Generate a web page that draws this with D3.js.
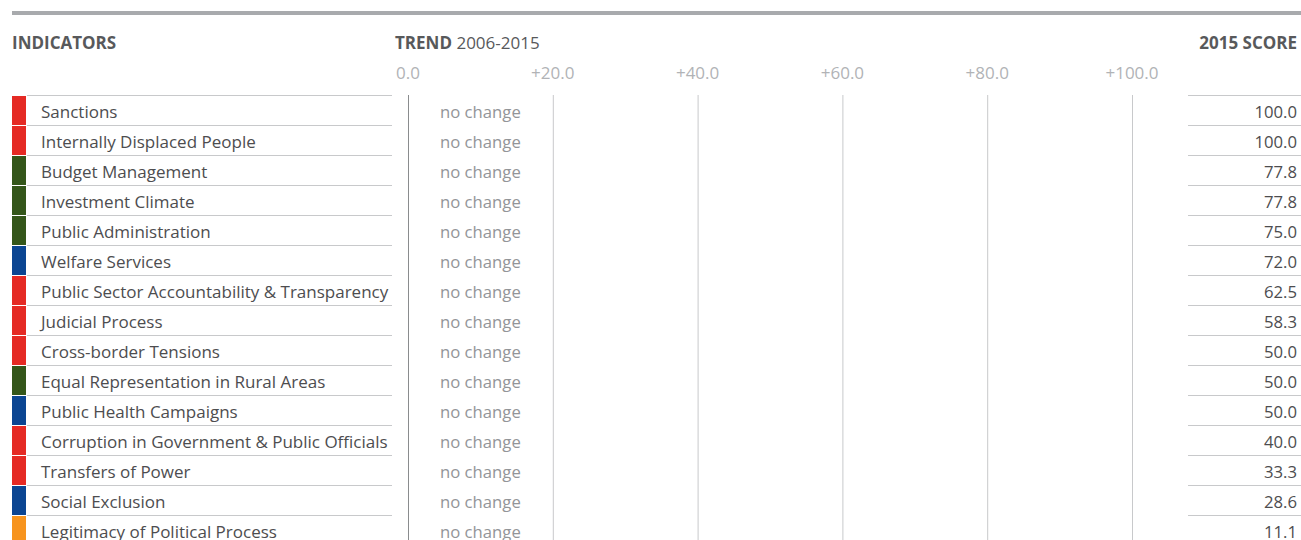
<!DOCTYPE html>
<html>
<head>
<meta charset="utf-8">
<script src="https://cdn.jsdelivr.net/npm/d3@7"></script>
<style>
  body { margin: 0; background: #fff; overflow: hidden; }
  svg { display: block; font-family: "Open Sans", "Noto Sans", sans-serif; }
</style>
</head>
<body>
<svg id="chart" width="1301" height="540"></svg>
<script>
// data
const indicators = ["Sanctions", "Internally Displaced People", "Budget Management", "Investment Climate",
    "Public Administration", "Welfare Services", "Public Sector Accountability & Transparency", "Judicial Process",
    "Cross-border Tensions", "Equal Representation in Rural Areas", "Public Health Campaigns",
    "Corruption in Government & Public Officials", "Transfers of Power", "Social Exclusion", "Legitimacy of Political Process"];
const groups = ["politics", "politics", "economy", "economy", "economy", "social", "politics", "politics",
    "politics", "economy", "social", "politics", "politics", "social", "other"];
const trends = [0, 0, 0, 0, 0, 0, 0, 0, 0, 0, 0, 0, 0, 0, 0];
const scores = [100.0, 100.0, 77.8, 77.8, 75.0, 72.0, 62.5, 58.3, 50.0, 50.0, 50.0, 40.0, 33.3, 28.6, 11.1];
const trend_ticks = [0, 20, 40, 60, 80, 100];
const group_names = ["politics", "economy", "social", "other"];
const group_colors = ["#e52a24", "#34561a", "#0b4592", "#f7941e"];

const svg = d3.select("#chart");

// scales
const g_x = d3.scaleLinear().domain([0, 100]).range([408, 1132]);
const g_y = d3.scaleBand().domain(indicators).range([95, 95 + 30 * indicators.length]);
const g_color = d3.scaleOrdinal().domain(group_names).range(group_colors);

// top rule
svg.append("rect").attr("x", 12).attr("y", 11).attr("width", 1289).attr("height", 4).attr("fill", "#a8aaad");

// headers
svg.append("text").attr("x", 12).attr("y", 49)
    .style("font-size", "17px").style("font-weight", "bold").attr("fill", "#58595b").text("INDICATORS");
const trend_head = svg.append("text").attr("x", 395).attr("y", 49)
    .style("font-size", "17px").attr("fill", "#58595b");
trend_head.append("tspan").style("font-weight", "bold").text("TREND");
trend_head.append("tspan").text(" 2006-2015");
svg.append("text").attr("x", 1297).attr("y", 49).attr("text-anchor", "end")
    .style("font-size", "17px").style("font-weight", "bold").attr("fill", "#58595b").text("2015 SCORE");

// trend axis ticks + grid
const grid = svg.append("g");
grid.selectAll(".tick_lbl").data(trend_ticks).join("text").classed("tick_lbl", true)
    .attr("x", d => g_x(d)).attr("y", 79).attr("text-anchor", "middle")
    .style("font-size", "17px").attr("fill", "#b1b3b6")
    .text(d => d == 0 ? "0.0" : "+" + d.toFixed(1));
grid.selectAll(".grid_line").data(trend_ticks).join("line").classed("grid_line", true)
    .attr("x1", d => g_x(d) + 0.5).attr("x2", d => g_x(d) + 0.5)
    .attr("y1", 95).attr("y2", 540)
    .attr("stroke", d => d == 0 ? "#8a8c8e" : "#c8c9cb").attr("stroke-width", 1);

// rows
const rows = svg.selectAll(".row").data(indicators).join("g").classed("row", true)
    .attr("transform", d => "translate(0," + g_y(d) + ")");
rows.append("rect").attr("x", 12).attr("y", 1).attr("width", 14).attr("height", g_y.bandwidth() - 1)
    .attr("fill", (d, i) => g_color(groups[i]));
rows.append("line").attr("x1", 27).attr("x2", 392).attr("y1", 0.5).attr("y2", 0.5)
    .attr("stroke", "#c8c9cb");
rows.append("text").attr("x", 41).attr("y", 23)
    .style("font-size", "17px").attr("fill", "#4d4d4f").text(d => d);
rows.append("text").attr("x", 440).attr("y", 23)
    .style("font-size", "16.7px").attr("fill", "#939598")
    .text((d, i) => trends[i] == 0 ? "no change" : (trends[i] > 0 ? "+" : "") + trends[i].toFixed(1));
rows.append("line").attr("x1", 1188).attr("x2", 1301).attr("y1", 0.5).attr("y2", 0.5)
    .attr("stroke", "#c8c9cb");
rows.append("text").attr("x", 1297).attr("y", 23).attr("text-anchor", "end")
    .style("font-size", "16.7px").attr("fill", "#4d4d4f").text((d, i) => scores[i].toFixed(1));
</script>
</body>
</html>
